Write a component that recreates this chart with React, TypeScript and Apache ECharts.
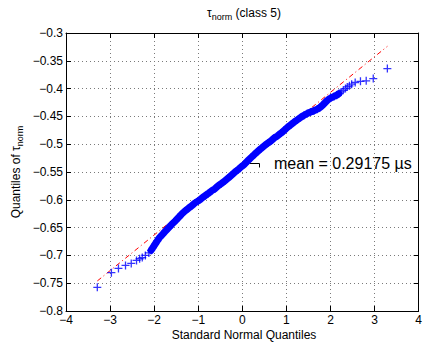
import React, { useEffect, useRef } from 'react';
import * as echarts from 'echarts';

// Axis ranges / ticks
const xMin = -4;
const xMax = 4;
const xStep = 1;
const yMin = -0.8;
const yMax = -0.3;
const yStep = 0.05;

// QQ points (standard normal quantile, sample quantile)
const qqX = [
  -3.29, -2.97, -2.81, -2.65, -2.52, -2.40, -2.33, -2.27, -2.20, -2.12, -2.07, -2.03, -1.98, -1.93,
  -1.88, -1.82, -1.75, -1.67, -1.60, -1.52, -1.45, -1.38, -1.30, -1.22, -1.15, -1.08, -1.00,
  -0.92, -0.85, -0.78, -0.70, -0.62, -0.55, -0.48, -0.40, -0.32, -0.25, -0.18, -0.10, -0.03,
  0.05, 0.12, 0.20, 0.28, 0.35, 0.42, 0.50, 0.58, 0.65, 0.72, 0.80, 0.88, 0.95, 1.02, 1.10,
  1.18, 1.25, 1.32, 1.40, 1.47, 1.55, 1.62, 1.70, 1.76, 1.82, 1.88, 1.93, 2.00, 2.08, 2.14,
  2.19, 2.24, 2.29, 2.34, 2.38, 2.43, 2.48, 2.56, 2.68, 2.81, 2.97, 3.29,
];
const qqY = [
  -0.7575, -0.731, -0.7235, -0.718, -0.7145, -0.709, -0.706, -0.704, -0.700, -0.6955, -0.691, -0.686, -0.680, -0.674,
  -0.668, -0.663, -0.657, -0.650, -0.644, -0.638, -0.632, -0.626, -0.620, -0.615, -0.611, -0.606, -0.602,
  -0.597, -0.593, -0.589, -0.584, -0.580, -0.575, -0.571, -0.566, -0.561, -0.556, -0.551, -0.546, -0.541,
  -0.536, -0.530, -0.524, -0.518, -0.513, -0.508, -0.503, -0.498, -0.494, -0.489, -0.485, -0.480, -0.475, -0.470, -0.465,
  -0.460, -0.456, -0.452, -0.448, -0.445, -0.442, -0.440, -0.437, -0.434, -0.430, -0.425, -0.421, -0.417, -0.414, -0.412,
  -0.409, -0.406, -0.403, -0.400, -0.397, -0.395, -0.392, -0.389, -0.387, -0.386, -0.382, -0.364,
];
// x range in which the markers overlap into a solid band
const bandFrom = -2.1;
const bandTo = 2.2;

// Reference (fit) line endpoints
const refX = [-3.29, 3.29];
const refY = [-0.746, -0.324];

// Texts
const titleMain = 'τ';
const titleSub = 'norm';
const titleRest = ' (class 5)';
const xName = 'Standard Normal Quantiles';
const yNameMain = 'Quantiles of τ';
const yNameSub = 'norm';
const annotation = 'mean = 0.29175 µs';

const FONT = '"Liberation Sans", Arial, Helvetica, sans-serif';

const fmt = (v: number) => {
  const s = String(Number(v.toFixed(2)));
  return s.replace('-', '\u2212');
};

export default function App() {
  const ref = useRef<HTMLDivElement>(null);
  useEffect(() => {
    document.body.style.margin = '0';
    if (!ref.current) return;
    const chart = echarts.init(ref.current, undefined, { renderer: 'svg' });
    const gridLeft = 66;
    const gridTop = 33;
    const gridW = 356;
    const gridH = 278;

    const baseAxis = {
      type: 'value' as const,
      axisLine: { show: true, onZero: false, lineStyle: { color: '#000', width: 1 } },
      axisTick: { show: true, inside: true, length: 5, lineStyle: { color: '#000', width: 1 } },
    };
    const gridLine = { show: true, lineStyle: { color: '#7a7a7a', width: 1, type: [1, 3] as number[] } };

    const pts = qqX.map((x, i) => [x, qqY[i]]);
    const bandPts = pts.filter((p) => p[0] >= bandFrom && p[0] <= bandTo);

    chart.setOption({
      animation: false,
      backgroundColor: '#fff',
      grid: { left: gridLeft, top: gridTop, width: gridW, height: gridH, containLabel: false },
      xAxis: [
        {
          ...baseAxis,
          position: 'bottom',
          min: xMin,
          max: xMax,
          interval: xStep,
          splitLine: gridLine,
          axisLabel: {
            color: '#000', fontSize: 12, fontFamily: FONT, margin: 3,
            showMinLabel: true, showMaxLabel: true, formatter: fmt,
          },
        },
        {
          ...baseAxis,
          position: 'top',
          min: xMin,
          max: xMax,
          interval: xStep,
          splitLine: { show: false },
          axisLabel: { show: false },
        },
      ],
      yAxis: [
        {
          ...baseAxis,
          position: 'left',
          min: yMin,
          max: yMax,
          interval: yStep,
          splitLine: gridLine,
          axisLabel: {
            color: '#000', fontSize: 12, fontFamily: FONT, margin: 3,
            showMinLabel: true, showMaxLabel: true, formatter: fmt,
          },
        },
        {
          ...baseAxis,
          position: 'right',
          min: yMin,
          max: yMax,
          interval: yStep,
          splitLine: { show: false },
          axisLabel: { show: false },
        },
      ],
      series: [
        {
          type: 'line',
          xAxisIndex: 0,
          yAxisIndex: 0,
          data: refX.map((x, i) => [x, refY[i]]),
          symbol: 'none',
          lineStyle: { color: '#ff0000', width: 1, type: [5, 3, 1, 3] },
          z: 2,
          silent: true,
        },
        {
          type: 'line',
          xAxisIndex: 0,
          yAxisIndex: 0,
          data: bandPts,
          symbol: 'none',
          lineStyle: { color: '#0000ff', width: 7, cap: 'round', join: 'round' },
          z: 3,
          silent: true,
        },
        {
          type: 'scatter',
          xAxisIndex: 0,
          yAxisIndex: 0,
          data: pts,
          symbol: 'path://M5,0L5,10M0,5L10,5',
          symbolSize: 8,
          itemStyle: { color: 'none', borderColor: '#0000ff', borderWidth: 1.3 },
          z: 4,
          silent: true,
        },
      ],
      graphic: [
        {
          type: 'text',
          x: 244,
          y: 13,
          style: {
            text: `{a|${titleMain}}{s|${titleSub}}{a|${titleRest}}`,
            align: 'center',
            verticalAlign: 'middle',
            rich: {
              a: { fontSize: 12, fontFamily: FONT, fill: '#000', lineHeight: 16, verticalAlign: 'middle' },
              s: { fontSize: 9, fontFamily: FONT, fill: '#000', lineHeight: 9, verticalAlign: 'bottom' },
            },
          },
        },
        {
          type: 'text',
          x: 244,
          y: 335,
          style: { text: xName, fontSize: 12, fontFamily: FONT, fill: '#000', align: 'center', verticalAlign: 'middle' },
        },
        {
          type: 'text',
          x: 16,
          y: 172,
          rotation: Math.PI / 2,
          style: {
            text: `{a|${yNameMain}}{s|${yNameSub}}`,
            align: 'center',
            verticalAlign: 'middle',
            rich: {
              a: { fontSize: 12, fontFamily: FONT, fill: '#000', lineHeight: 16, verticalAlign: 'middle' },
              s: { fontSize: 9, fontFamily: FONT, fill: '#000', lineHeight: 9, verticalAlign: 'bottom' },
            },
          },
        },
        {
          type: 'polyline',
          shape: { points: [[249.5, 163.5], [259.5, 163.5], [259.5, 167.5]] },
          style: { stroke: '#000', lineWidth: 1, fill: 'none' },
        },
        {
          type: 'text',
          x: 274,
          y: 163,
          style: { text: annotation, fontSize: 16, fontFamily: FONT, fill: '#000', align: 'left', verticalAlign: 'middle' },
        },
      ],
    });
    return () => chart.dispose();
  }, []);
  return <div ref={ref} style={{ position: 'absolute', left: 0, top: 0, width: 425, height: 345 }} />;
}
